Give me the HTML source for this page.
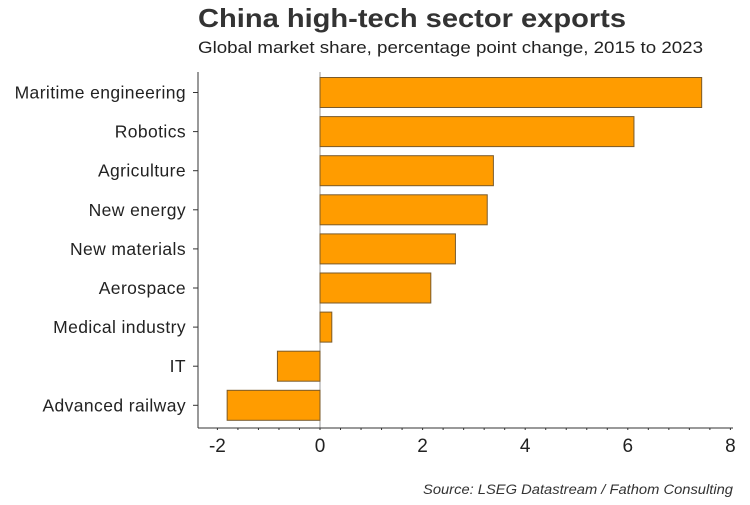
<!DOCTYPE html>
<html><head><meta charset="utf-8"><style>
body{margin:0;background:#fff;font-family:"Liberation Sans",Arial,sans-serif}
</style></head><body>
<svg width="750" height="500" xmlns="http://www.w3.org/2000/svg" id="c">
<text x="198" y="27" font-size="26" font-weight="bold" fill="#333" textLength="428" lengthAdjust="spacingAndGlyphs">China high-tech sector exports</text>
<text x="198" y="53" font-size="16.5" fill="#222" textLength="505" lengthAdjust="spacingAndGlyphs">Global market share, percentage point change, 2015 to 2023</text>
<text x="423" y="494" font-size="13.5" font-style="italic" fill="#333" textLength="310" lengthAdjust="spacingAndGlyphs">Source: LSEG Datastream / Fathom Consulting</text>
<g id="plot"></g>
</svg>
<script>
const categories=["Maritime engineering","Robotics","Agriculture","New energy","New materials","Aerospace","Medical industry","IT","Advanced railway"];
const values=[7.44,6.12,3.38,3.26,2.64,2.16,0.23,-0.83,-1.81];
const xTicks=[-2,0,2,4,6,8];
const NS="http://www.w3.org/2000/svg";
const plotG=document.getElementById('plot');
const X0=320,PPU=51.3,TOP0=73,STEP=39.1,BH=30,AXIS_Y=428,AXIS_X=198;
const xs=v=>X0+v*PPU;
const ys=i=>TOP0+i*STEP;
function mk(t,a){const e=document.createElementNS(NS,t);for(const k in a)e.setAttribute(k,a[k]);plotG.appendChild(e);return e;}
let el;
el=mk('line',{x1:X0,y1:72,x2:X0,y2:AXIS_Y,stroke:'#999','stroke-width':1});


categories.forEach((c,i)=>{
 const v=values[i];
 const r=mk('rect',{x:Math.min(xs(0),xs(v)),y:ys(i)+4.5,width:Math.abs(xs(v)-xs(0)),height:BH,fill:'#ff9c00',stroke:'#7a5a2a','stroke-width':1});
 
 
 const l=mk('text',{x:186,y:ys(i)+19.5+6,'font-size':17.5,'letter-spacing':0.4,fill:'#222','text-anchor':'end'});
 l.textContent=c;
 
 
 const t=mk('line',{x1:AXIS_X-5,x2:AXIS_X,y1:ys(i)+19.5,y2:ys(i)+19.5,stroke:'#333'});
 
 
});
el=mk('line',{x1:AXIS_X,y1:72,x2:AXIS_X,y2:AXIS_Y,stroke:'#333'});


el=mk('line',{x1:AXIS_X,y1:AXIS_Y,x2:733,y2:AXIS_Y,stroke:'#333'});


for(let v=-2;v<=8.001;v+=0.4){
 const m=mk('line',{x1:xs(v),x2:xs(v),y1:AXIS_Y,y2:AXIS_Y+2,stroke:'#333'});
 
 
}
xTicks.forEach(v=>{
 const t=mk('text',{x:xs(v),y:452,'font-size':19,fill:'#222','text-anchor':'middle'});
 t.textContent=v<0?'-'+Math.abs(v):String(v);
 
 
});
</script>
</body></html>
